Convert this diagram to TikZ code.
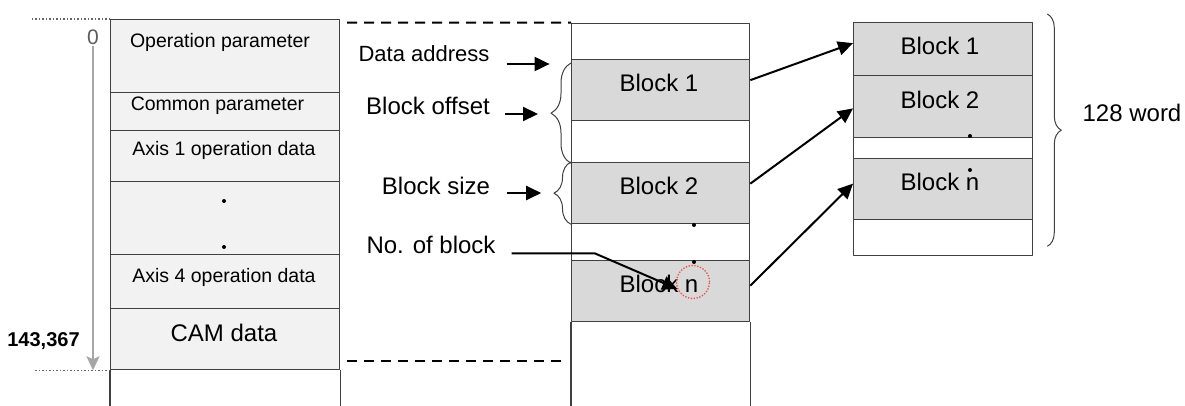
\documentclass[tikz,border=0pt]{standalone}
\usepackage{fontspec}
\setmainfont{Liberation Sans}
\usetikzlibrary{arrows.meta,decorations.pathreplacing}

\definecolor{cellline}{HTML}{404040}
\definecolor{paramfill}{HTML}{F2F2F2}
\definecolor{blockfill}{HTML}{D9D9D9}
\definecolor{addrgray}{HTML}{A6A6A6}
\definecolor{markred}{HTML}{F04848}

\tikzset{
  cell/.style={draw=cellline, line width=1.3pt, inner sep=0pt, anchor=north west},
  smalltxt/.style={font=\fontsize{19.5}{23}\selectfont, anchor=base, inner sep=0pt},
  annot/.style={font=\fontsize{24}{28}\selectfont, anchor=base, inner sep=0pt},
  ptr/.style={-{Triangle[length=15pt,width=14pt]}, line width=2pt},
  brc/.style={decorate, decoration={brace, amplitude=#1}, draw=cellline, line width=1pt},
  sepdash/.style={line width=2pt, dash pattern=on 10pt off 7pt},
  dotline/.style={draw=cellline!80, line width=1.5pt, dash pattern=on 1.5pt off 2pt},
}

\begin{document}
\begin{tikzpicture}[x=1pt,y=-1pt,line join=round]
  \useasboundingbox (0,0) rectangle (1185,405);
  % parameter area
  \foreach \nm/\ytop/\hgt in {oppar/19/73, compar/92/38, axone/130/51, axdots/181/73, axfour/254/54, camdat/308/61}
    {\node[cell, fill=paramfill, minimum width=229pt, minimum height=\hgt pt] (\nm) at (110,\ytop) {};}
  \draw[cellline, line width=1.3pt] (camdat.south west) -- ++(0,36) (camdat.south east) -- ++(0,36);
  % CAM data area
  \foreach \nm/\ytop/\hgt/\fillc in {mtop/22.5/36.5/white, mblk1/59/61/blockfill, mgap1/120/42/white,
      mblk2/162/61/blockfill, mgap2/223/37/white, mblkn/260/61/blockfill}
    {\node[cell, fill=\fillc, minimum width=178pt, minimum height=\hgt pt] (\nm) at (571,\ytop) {};}
  \draw[cellline, line width=1.3pt] (mblkn.south west) -- ++(0,84) (mblkn.south east) -- ++(0,84);
  % one block
  \foreach \nm/\ytop/\hgt/\fillc in {rblk1/22/53/blockfill, rblk2/75/61.5/blockfill, rgap/136.5/21.5/white,
      rblkn/158/61/blockfill, rend/219/36/white}
    {\node[cell, fill=\fillc, minimum width=179pt, minimum height=\hgt pt] (\nm) at (853,\ytop) {};}

  \node[smalltxt] (oppartxt) at (220,47) {Operation parameter};
  \node[smalltxt] (compartxt) at (217.5,110) {Common parameter};
  \node[smalltxt] (axonetxt) at (224,155) {Axis 1 operation data};
  \node[smalltxt] (axfourtxt) at (224,282.7) {Axis 4 operation data};
  \node[annot] (camtxt) at (224,341.7) {CAM data};

  \node[font=\fontsize{21}{25}\selectfont, text=cellline!85, anchor=base, inner sep=0pt] (zero) at (93,44) {0};
  \node[font=\fontsize{20}{24}\selectfont\bfseries, anchor=base, inner sep=0pt] (endaddr) at (43.5,346.7) {143,367};
  \draw[dotline] (oppar.north west) -- ++(-78,0);
  \draw[dotline] (camdat.south west) -- ++(-75,0);
  \draw[draw=addrgray, line width=2.5pt, -{Stealth[length=14pt,width=13pt,inset=3pt]}, shorten <=2pt]
    (zero.south) -- (zero.south |- camdat.south west);

  \draw[sepdash] (347,22.7) -- (mtop.north west);
  \draw[sepdash] (347,361) -- (567,361);

  \node[annot, font=\fontsize{22}{26}\selectfont] (daddr) at (424,61.7) {Data address};
  \node[annot] (boffs) at (428,114) {Block offset};
  \node[annot] (bsize) at (436,194) {Block size};
  \node[annot] (nblk) at (431,253.3) {No. of block};

  \node[annot] (mblk1txt) at (659,91.7) {Block 1};
  \node[annot] (mblk2txt) at (659,194.5) {Block 2};
  \node[annot] (mblkntxt) at (659,292.3) {Block n};
  \node[annot] (rblk1txt) at (940,54) {Block 1};
  \node[annot] (rblk2txt) at (940,108.3) {Block 2};
  \node[annot] (rblkntxt) at (940,190.7) {Block n};
  \node[annot] (wordtxt) at (1132,121.7) {128 word};

  \foreach \dx/\dy in {224/201, 224/247, 694/225, 694/262, 970/136, 970/170}
    {\fill (\dx,\dy) circle (2pt);}

  \draw[brc=20pt] (mgap1.south west) -- ([yshift=-4pt]mblk1.north west);
  \draw[brc=17pt] (mblk2.south west) -- (mblk2.north west);
  \draw[brc=14pt] ([xshift=14pt,yshift=8pt]rblk1.north east) -- ([xshift=14pt,yshift=10pt]rend.south east);

  \node[circle, draw=markred, line width=1.3pt, dash pattern=on 1.3pt off 1.6pt, minimum size=33pt, inner sep=0pt] (ncirc) at (693,282) {};

  \draw[ptr] ([xshift=17pt,yshift=-2.3pt]daddr.base east) -- ++(43,0);
  \draw[ptr] ([xshift=15pt]boffs.base east) -- ++(33,0);
  \draw[ptr] ([xshift=17pt,yshift=1pt]bsize.base east) -- ++(34,0);
  \draw[ptr] ([xshift=16pt]nblk.base east) -- ++(83,0) -- (ncirc.204);

  \draw[ptr] ([yshift=10pt]mblk1.east) -- ([yshift=6pt]rblk1.west);
  \draw[ptr] ([yshift=9.5pt]mblk2.east) -- ([yshift=-2pt]rblk2.west);
  \draw[ptr] ([yshift=5.5pt]mblkn.east) -- ([yshift=5.5pt]rblkn.west);
\end{tikzpicture}
\end{document}
